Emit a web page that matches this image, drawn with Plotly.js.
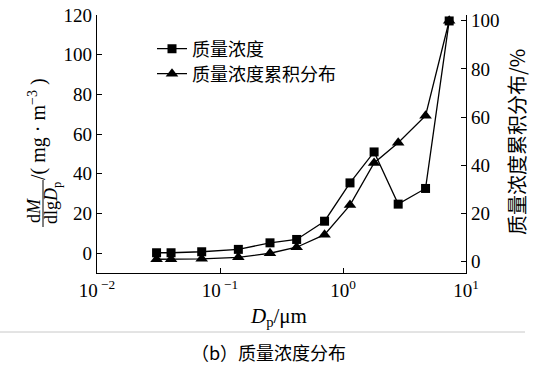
<!DOCTYPE html>
<html><head><meta charset="utf-8">
<script src="https://cdn.plot.ly/plotly-3.0.1.min.js"></script>
<style>body{margin:0;background:#fff}#c{width:543px;height:367px}</style>
</head><body><div id="c"></div>
<script>
const diam = [0.0305, 0.040, 0.071, 0.141, 0.255, 0.42, 0.708, 1.14, 1.79, 2.81, 4.69, 7.3];
const massConc = [0.2, 0.2, 0.7, 1.9, 5.2, 6.9, 16.1, 35.4, 51, 24.7, 32.6, 117];
const cumPct = [1.0, 1.0, 1.2, 1.8, 3.5, 6.0, 11.2, 23.5, 41, 49.4, 60.6, 100];
const xTickVals = [0.01, 0.1, 1, 10];
const xTickText = ['10<sup> −2</sup>', '10<sup> −1</sup>', '10<sup>0</sup>', '10<sup>1</sup>'];
const seriesNames = ['质量浓度', '质量浓度累积分布'];

const F = "'Liberation Serif', 'Times New Roman', serif";
const FC = "'Noto Sans CJK SC', 'Liberation Serif', serif";

const traces = [
  {x: diam, y: massConc, name: seriesNames[0], mode: 'lines+markers', yaxis: 'y', legend: 'legend',
   line: {color: '#000', width: 1.3}, marker: {symbol: 'square', size: 9, color: '#000'}},
  {x: diam, y: cumPct, name: seriesNames[1], mode: 'lines+markers', yaxis: 'y2', legend: 'legend2',
   line: {color: '#000', width: 1.3}, marker: {symbol: 'triangle-up', size: 11, color: '#000'}}
];

const W = 369, H = 258, L = 97, T = 15;
const px = v => (v - L) / W;
const py = v => 1 - (v - T) / H;
const legBase = {xanchor: 'left', yanchor: 'middle', bgcolor: 'rgba(0,0,0,0)',
                 font: {family: FC, size: 18, color: '#000'}, itemwidth: 30};

const layout = {
  width: 543, height: 367,
  margin: {l: L, r: 77, t: T, b: 94},
  paper_bgcolor: '#fff', plot_bgcolor: '#fff',
  showlegend: true,
  legend: Object.assign({x: px(152), y: py(49)}, legBase),
  legend2: Object.assign({x: px(152), y: py(74)}, legBase),
  xaxis: {type: 'log', range: [-2, 1], tickvals: xTickVals, ticktext: xTickText,
          showline: true, linecolor: '#000', linewidth: 1.2, ticks: 'inside', ticklen: 5,
          tickcolor: '#000', showgrid: false, zeroline: false, mirror: false,
          tickfont: {family: F, size: 19, color: '#000'}},
  yaxis: {range: [-10, 120], dtick: 20, showline: true, linecolor: '#000', linewidth: 1.2,
          ticks: 'inside', ticklen: 5, tickcolor: '#000', showgrid: false, zeroline: false,
          tickfont: {family: F, size: 19, color: '#000'}},
  yaxis2: {range: [-4.7, 102.4], dtick: 20, overlaying: 'y', side: 'right', showline: true,
           linecolor: '#000', linewidth: 1.2, ticks: 'inside', ticklen: 5, tickcolor: '#000',
           showgrid: false, zeroline: false, tickfont: {family: F, size: 19, color: '#000'}},
  shapes: [
    {type: 'line', xref: 'paper', yref: 'paper', x0: px(43), x1: px(43),
     y0: py(180), y1: py(227), line: {color: '#000', width: 1}},
    {type: 'line', xref: 'paper', yref: 'paper', x0: px(0), x1: px(525),
     y0: py(332), y1: py(332), line: {color: '#c8c8c8', width: 1}}
  ],
  annotations: [
    {text: 'd<i>M</i>', xref: 'paper', yref: 'paper', x: px(34), y: py(210), xanchor: 'center', yanchor: 'middle',
     showarrow: false, textangle: -90, font: {family: F, size: 18, color: '#000'}},
    {text: 'dlg<i>D</i><sub>p</sub>', xref: 'paper', yref: 'paper', x: px(52), y: py(203), xanchor: 'center', yanchor: 'middle',
     showarrow: false, textangle: -90, font: {family: F, size: 18, color: '#000'}},
    {text: '/( mg · m<sup>−3</sup> )', xref: 'paper', yref: 'paper', x: px(37), y: py(129), xanchor: 'center', yanchor: 'middle',
     showarrow: false, textangle: -90, font: {family: F, size: 20, color: '#000'}},
    {text: '质量浓度累积分布/%', xref: 'paper', yref: 'paper', x: px(516), y: py(142), xanchor: 'center', yanchor: 'middle',
     showarrow: false, textangle: -90, font: {family: FC, size: 20, color: '#000'}},
    {text: '<i>D</i><sub>p</sub>/μm', xref: 'paper', yref: 'paper', x: px(278), y: py(317), xanchor: 'center', yanchor: 'middle',
     showarrow: false, font: {family: F, size: 21, color: '#000'}},
    {text: '（b）质量浓度分布', xref: 'paper', yref: 'paper', x: px(268), y: py(352), xanchor: 'center', yanchor: 'middle',
     showarrow: false, font: {family: FC, size: 18, color: '#000'}}
  ]
};
Plotly.newPlot('c', traces, layout, {displayModeBar: false});
</script></body></html>
